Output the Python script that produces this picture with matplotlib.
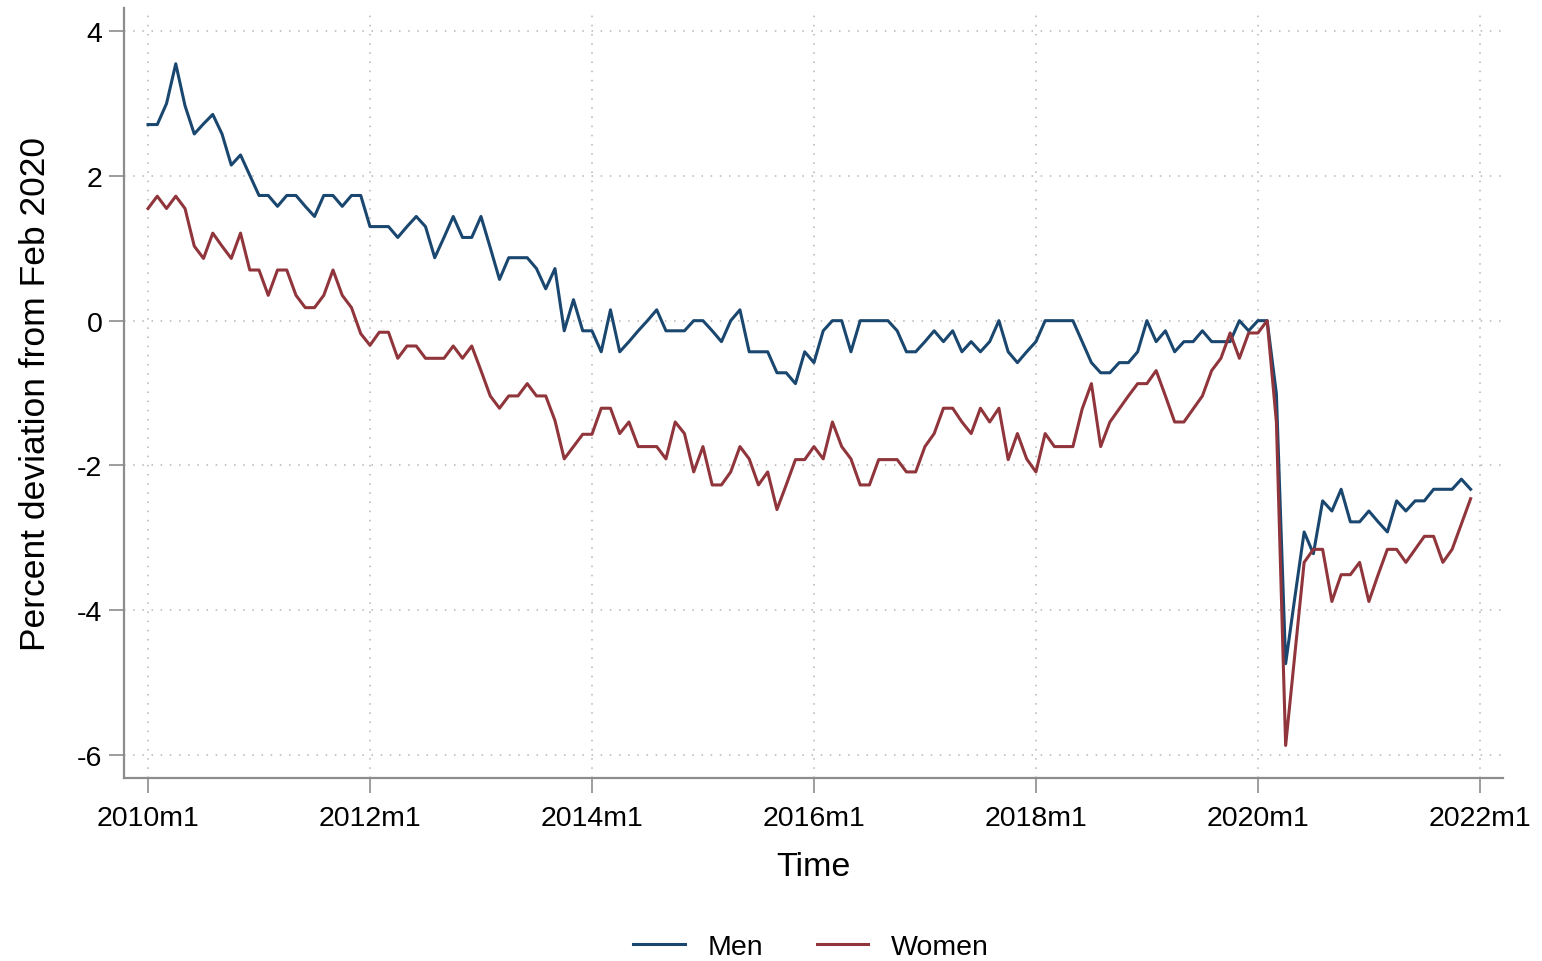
import numpy as np
import matplotlib
matplotlib.use('Agg')
import matplotlib.pyplot as plt

# Monthly series, 2010m1 .. 2021m12 (percent deviation from Feb 2020)
men = [2.71, 2.71, 3.00, 3.55, 2.97, 2.58, 2.72, 2.85, 2.58, 2.15, 2.29, 2.01,
       1.73, 1.73, 1.58, 1.73, 1.73, 1.58, 1.44, 1.73, 1.73, 1.58, 1.73, 1.73,
       1.30, 1.30, 1.30, 1.15, 1.30, 1.44, 1.30, 0.87, 1.15, 1.44, 1.15, 1.15,
       1.44, 1.01, 0.57, 0.87, 0.87, 0.87, 0.72, 0.44, 0.72, -0.14, 0.29, -0.14,
       -0.14, -0.43, 0.15, -0.43, -0.29, -0.14, 0.00, 0.15, -0.14, -0.14, -0.14, 0.00,
       0.00, -0.14, -0.29, 0.00, 0.15, -0.43, -0.43, -0.43, -0.72, -0.72, -0.87, -0.43,
       -0.58, -0.14, 0.00, 0.00, -0.43, 0.00, 0.00, 0.00, 0.00, -0.14, -0.43, -0.43,
       -0.29, -0.14, -0.29, -0.14, -0.43, -0.29, -0.43, -0.29, 0.00, -0.43, -0.58, -0.43,
       -0.29, 0.00, 0.00, 0.00, 0.00, -0.29, -0.58, -0.72, -0.72, -0.58, -0.58, -0.43,
       0.00, -0.29, -0.14, -0.43, -0.29, -0.29, -0.14, -0.29, -0.29, -0.29, 0.00, -0.14,
       0.00, 0.00, -1.01, -4.74, -3.82, -2.92, -3.22, -2.49, -2.63, -2.33, -2.78, -2.78,
       -2.63, -2.78, -2.92, -2.49, -2.63, -2.49, -2.49, -2.33, -2.33, -2.33, -2.19, -2.33]

women = [1.55, 1.72, 1.55, 1.72, 1.55, 1.03, 0.86, 1.21, 1.03, 0.86, 1.21, 0.70,
         0.70, 0.35, 0.70, 0.70, 0.35, 0.18, 0.18, 0.35, 0.70, 0.35, 0.18, -0.18,
         -0.34, -0.16, -0.16, -0.52, -0.35, -0.35, -0.52, -0.52, -0.52, -0.35, -0.52, -0.35,
         -0.69, -1.04, -1.21, -1.04, -1.04, -0.87, -1.04, -1.04, -1.38, -1.91, -1.74, -1.57,
         -1.57, -1.21, -1.21, -1.56, -1.40, -1.74, -1.74, -1.74, -1.91, -1.40, -1.56, -2.09,
         -1.74, -2.27, -2.27, -2.09, -1.74, -1.91, -2.27, -2.09, -2.61, -2.27, -1.92, -1.92,
         -1.74, -1.91, -1.40, -1.74, -1.91, -2.27, -2.27, -1.92, -1.92, -1.92, -2.09, -2.09,
         -1.74, -1.56, -1.21, -1.21, -1.40, -1.56, -1.21, -1.40, -1.21, -1.92, -1.56, -1.91,
         -2.09, -1.56, -1.74, -1.74, -1.74, -1.22, -0.87, -1.74, -1.40, -1.22, -1.04, -0.87,
         -0.87, -0.69, -1.04, -1.40, -1.40, -1.22, -1.04, -0.69, -0.52, -0.17, -0.52, -0.17,
         -0.17, 0.00, -1.40, -5.87, -4.60, -3.34, -3.16, -3.16, -3.88, -3.51, -3.51, -3.34,
         -3.88, -3.51, -3.16, -3.16, -3.34, -3.16, -2.98, -2.98, -3.34, -3.16, -2.81, -2.46]

xtick_labels = ['2010m1', '2012m1', '2014m1', '2016m1', '2018m1', '2020m1', '2022m1']
yticks = [4, 2, 0, -2, -4, -6]

plt.rcParams['font.family'] = ['Liberation Sans', 'DejaVu Sans']

months = np.arange(len(men))

fig = plt.figure(figsize=(15.42, 9.62), dpi=100)
ax = fig.add_axes([0.0804, 0.1902, 0.8943, 0.8004])

ax.plot(months, men, color='#1a476f', lw=2.2, label='Men', zorder=3)
ax.plot(months, women, color='#90353b', lw=2.2, label='Women', zorder=3)

ax.set_xticks(np.arange(len(xtick_labels)) * 24)
ax.set_xticklabels(xtick_labels)
ax.set_yticks(yticks)
ax.set_yticklabels([str(v) for v in yticks])
ax.set_xlim(-2.6, 146.5)
ax.set_ylim(-6.32, 4.32)

ax.grid(True, color='#b4b4b4', linestyle=(0, (1, 5)), lw=1.1)
for side in ['top', 'right']:
    ax.spines[side].set_visible(False)
for side in ['left', 'bottom']:
    ax.spines[side].set_color('#8c8c8c')
    ax.spines[side].set_linewidth(1.6)
ax.tick_params(axis='both', colors='#8c8c8c', length=10.5, width=1.2,
               labelcolor='black', labelsize=20.5)
ax.tick_params(axis='x', pad=9)
ax.tick_params(axis='y', pad=5)

ax.set_xlabel('Time', fontsize=24.5, labelpad=14)
ax.set_ylabel('Percent deviation from Feb 2020', fontsize=25.5, labelpad=18)

fig.legend(loc='center', bbox_to_anchor=(0.526, 0.015), ncol=2, frameon=False,
           fontsize=20.5, handlelength=1.8, handletextpad=0.8, columnspacing=1.9)

fig.savefig('out.png', dpi=100)
